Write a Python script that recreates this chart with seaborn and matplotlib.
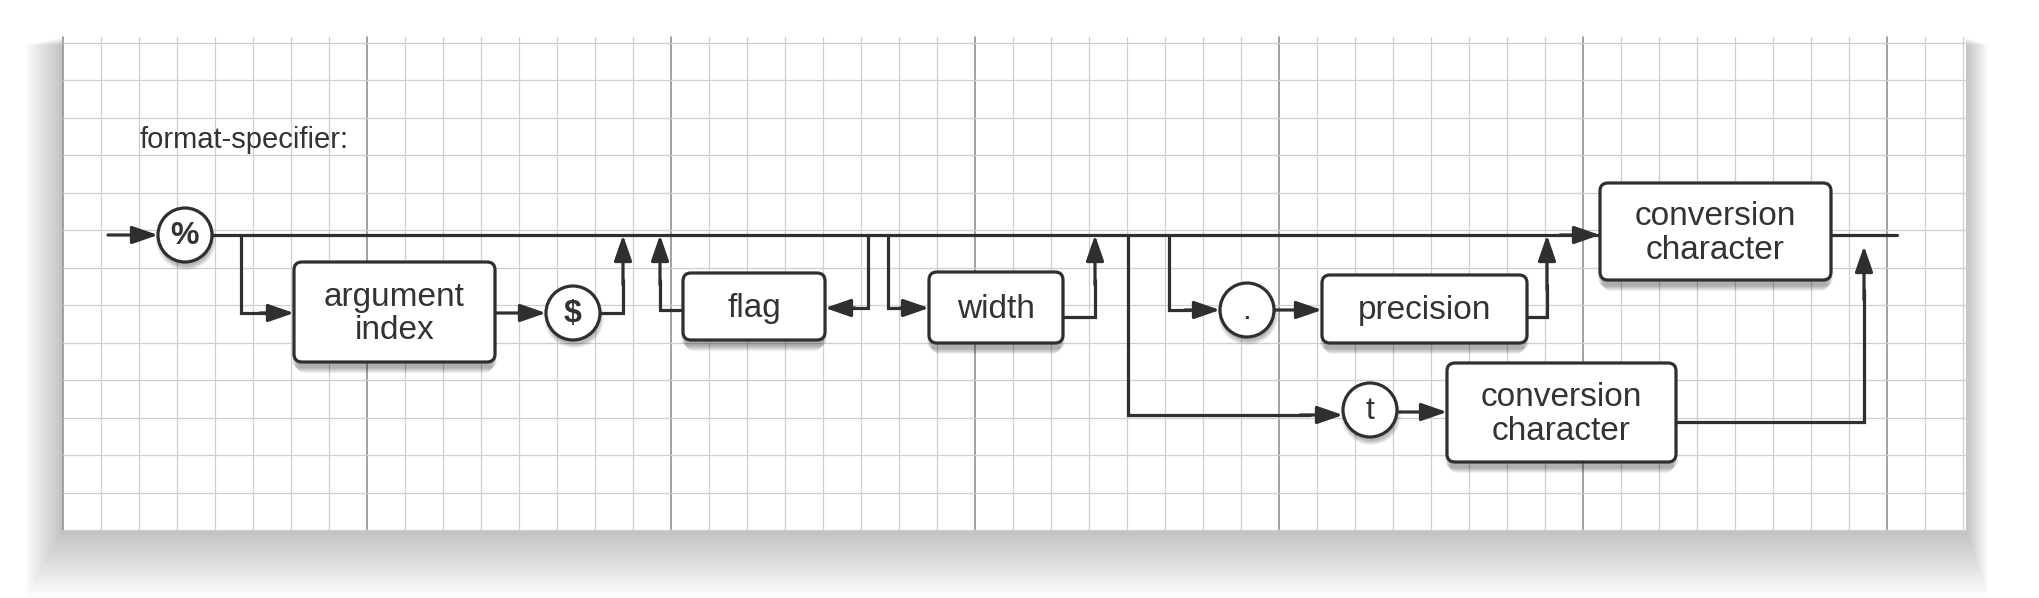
import matplotlib
matplotlib.use("Agg")
import matplotlib.pyplot as plt
from matplotlib.patches import FancyBboxPatch, Circle, Rectangle
import seaborn as sns

sns.set_theme(style="white")
plt.rcParams['font.family'] = ['Liberation Sans', 'DejaVu Sans']

title = "format-specifier:"
box_labels = ["argument\nindex", "flag", "width", "precision",
              "conversion\ncharacter", "conversion\ncharacter"]
circle_labels = ["%", "$", ".", "t"]

INK = "#2f2f2f"
LW = 2.3

fig = plt.figure(figsize=(20.4, 5.98), dpi=100)
ax = fig.add_axes([0, 0, 1, 1])
ax.set_xlim(0, 2040)
ax.set_ylim(598, 0)
ax.axis("off")

# panel shadow
for i in range(16):
    ax.add_patch(Rectangle((63 - i * 2.5, 37 + i * 0.5), 1903 + i * 4, 493 + i * 4,
                           color="black", alpha=0.016, lw=0, zorder=0))
ax.add_patch(Rectangle((63, 37), 1903, 493, color="white", lw=0, zorder=1))

# grid
x = 63
while x <= 1966:
    major = round((x - 63) / 38) % 8 == 0
    ax.plot([x, x], [37, 530], color="#9a9a9a" if major else "#cfcfcf",
            lw=1.3 if major else 0.9, zorder=2)
    x += 38
y = 530
while y >= 37:
    ax.plot([63, 1966], [y, y], color="#cfcfcf", lw=0.9, zorder=2)
    y -= 37.5


def box(x0, y0, x1, y1, label):
    for i in range(6):
        ax.add_patch(FancyBboxPatch((x0 - 2 + i, y0 + 6 + i), x1 - x0 + 4 - 2 * i, y1 - y0,
                                    boxstyle="round,pad=0,rounding_size=8",
                                    color="black", alpha=0.06, lw=0, zorder=3))
    ax.add_patch(FancyBboxPatch((x0, y0), x1 - x0, y1 - y0,
                                boxstyle="round,pad=0,rounding_size=8",
                                fc="white", ec=INK, lw=LW, zorder=5))
    ax.text((x0 + x1) / 2, (y0 + y1) / 2 + 2, label, ha="center", va="center",
            fontsize=24, color="#333333", linespacing=1.12, zorder=6)


def circ(cx, cy, label, r=27):
    for i in range(5):
        ax.add_patch(Circle((cx + 1, cy + 5), r + 3 - i, color="black", alpha=0.06, lw=0, zorder=3))
    ax.add_patch(Circle((cx, cy), r, fc="white", ec=INK, lw=LW, zorder=5))
    ax.text(cx, cy + 1, label, ha="center", va="center", fontsize=23,
            color="#333333", fontweight="bold" if label in "%$" else "normal", zorder=6)


def line(xs, ys):
    ax.plot(xs, ys, color=INK, lw=LW, zorder=4, solid_joinstyle="miter")


def arrow(x0, y0, x1, y1):
    ax.annotate("", xy=(x1, y1), xytext=(x0, y0),
                arrowprops=dict(arrowstyle="-|>,head_length=1.3,head_width=0.45",
                                color=INK, lw=LW, shrinkA=0, shrinkB=0), zorder=4)


MY = 235
# entry and main line
arrow(108, MY, 158, MY)
line([212, 1600], [MY, MY])
line([1831, 1897], [MY, MY])
arrow(1560, MY, 1600, MY)

circ(185, MY, circle_labels[0])

# argument index $
line([241, 241, 270], [MY, 313, 313])
arrow(260, 313, 294, 313)
box(294, 262, 495, 362, box_labels[0])
arrow(495, 313, 546, 313)
circ(573, 313, circle_labels[1])
line([600, 623, 623], [313, 313, 280])
arrow(623, 285, 623, MY)

# flag loop
box(683, 273, 825, 340, box_labels[1])
line([868, 868, 850], [MY, 308, 308])
arrow(855, 308, 825, 308)
line([683, 660, 660], [310, 310, 280])
arrow(660, 285, 660, MY)

# width
line([888, 888, 905], [MY, 308, 308])
arrow(900, 308, 929, 308)
box(929, 272, 1063, 343, box_labels[2])
line([1063, 1095, 1095], [317, 317, 280])
arrow(1095, 285, 1095, MY)

# precision
line([1169, 1169, 1190], [MY, 310, 310])
arrow(1185, 310, 1220, 310)
circ(1247, 310, circle_labels[2])
arrow(1274, 310, 1322, 310)
box(1322, 275, 1527, 343, box_labels[3])
line([1527, 1547, 1547], [317, 317, 285])
arrow(1547, 290, 1547, MY)

# conversion character
box(1600, 183, 1831, 280, box_labels[4])

# t branch
line([1128, 1128, 1310], [MY, 415, 415])
arrow(1300, 415, 1343, 415)
circ(1370, 410, circle_labels[3])
arrow(1397, 412, 1447, 412)
box(1447, 363, 1676, 462, box_labels[5])
line([1676, 1864, 1864], [422, 422, 290])
arrow(1864, 300, 1864, 246)

ax.text(140, 140, title, ha="left", va="center", fontsize=21, color="#333333", zorder=6)

fig.savefig("out.png", dpi=100)
